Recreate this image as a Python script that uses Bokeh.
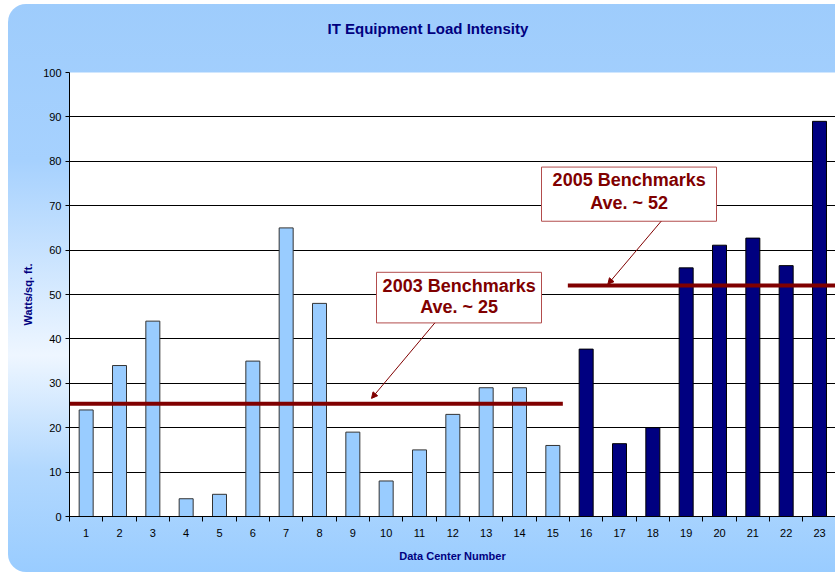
from bokeh.plotting import figure
from bokeh.models import FixedTicker, Arrow, NormalHead, Range1d, ColumnDataSource, Title
from bokeh.embed import file_html
from bokeh.resources import INLINE
from bokeh.core.properties import value

# ---- data ----
title_text = "IT Equipment Load Intensity"
centers = list(range(1, 24))
tick_labels = [str(c) for c in centers]
watts = [24, 34, 44, 4, 5, 35, 65, 48, 19, 8, 15, 23, 29, 29, 16,
         37.7, 16.4, 20, 56, 61.1, 62.7, 56.5, 89]
n_2003 = 15  # first 15 centers from 2003 study, rest from 2005

bench_labels = ["2003 Benchmarks", "2005 Benchmarks"]
bench_avg_text = ["Ave. ~ 25", "Ave. ~ 52"]
bench_values = [25.4, 52.0]
bench_x_start = [0.5, 15.45]
bench_x_end = [15.3, 23.5]

# annotation boxes (data coordinates)
box_left = [9.71, 14.66]
box_right = [14.66, 19.91]
box_top = [55.0, 78.7]
box_bottom = [43.6, 66.5]
text_x = [12.19, 17.29]
text_y1 = [51.9, 75.7]
text_y2 = [47.1, 70.6]
arrow_x0 = [11.46, 18.25]
arrow_y0 = [43.6, 66.5]
arrow_x1 = [9.56, 16.65]
arrow_y1 = [26.6, 52.3]

y_ticks = [0, 10, 20, 30, 40, 50, 60, 70, 80, 90, 100]

# ---- figure ----
p = figure(width=835, height=573, output_backend="svg", toolbar_location=None,
           x_range=Range1d(0.5, 23.48), y_range=Range1d(0, 100),
           min_border_left=69, min_border_right=0, min_border_top=72,
           min_border_bottom=57)
p.border_fill_color = None
p.background_fill_color = "white"
p.outline_line_color = None
p.styles = {"background": "linear-gradient(180deg, #9ECCFC 0%, #A6D1FE 28%, #EEF6FF 62%, #B2D8FE 82%, #99CCFF 100%)",
            "clip-path": "inset(4px 0px 1px 8px round 18px 0px 0px 18px)"}

p.title.text = ""
# spacer between the frame and the title
p.add_layout(Title(text=" ", standoff=17, text_font="Liberation Sans",
                   text_font_size="15px"), "above")
p.add_layout(Title(text=title_text, align="left", offset=258, standoff=0,
                   text_color="#000080", text_font="Liberation Sans",
                   text_font_size="15px", text_font_style="bold"), "above")

colors = ["#99CCFF"] * n_2003 + ["#000080"] * (len(centers) - n_2003)
lines = ["#333333"] * n_2003 + ["#000000"] * (len(centers) - n_2003)
src = ColumnDataSource(dict(x=centers, top=watts, color=colors, line=lines))
p.vbar(x="x", top="top", width=0.42, bottom=0, source=src,
       fill_color="color", line_color="line", line_width=1)

p.segment(x0=bench_x_start, y0=bench_values, x1=bench_x_end, y1=bench_values,
          line_color="#800000", line_width=4, line_cap="butt")

for i in range(2):
    p.add_layout(Arrow(end=NormalHead(size=6, fill_color="#800000", line_color="#800000"),
                       x_start=arrow_x0[i], y_start=arrow_y0[i],
                       x_end=arrow_x1[i], y_end=arrow_y1[i],
                       line_color="#800000", line_width=1))

p.quad(left=box_left, right=box_right, top=box_top, bottom=box_bottom,
       fill_color="white", line_color="#B24C4C", line_width=1)
p.text(x=text_x, y=text_y1, text=bench_labels, text_align="center",
       text_baseline="middle", text_font=value("Liberation Sans"),
       text_font_style="bold", text_font_size="18px", text_color="#800000")
p.text(x=text_x, y=text_y2, text=bench_avg_text, text_align="center",
       text_baseline="middle", text_font=value("Liberation Sans"),
       text_font_style="bold", text_font_size="18px", text_color="#800000")

# axes
xa = p.xaxis[0]
xa.ticker = FixedTicker(ticks=centers, minor_ticks=[c - 0.5 for c in centers] + [23.5])
xa.major_label_overrides = {c: l for c, l in zip(centers, tick_labels)}
xa.major_tick_out = 0
xa.major_tick_in = 0
xa.minor_tick_out = 5
xa.minor_tick_in = 0
xa.minor_tick_line_color = "black"
xa.axis_line_color = "black"
xa.major_label_standoff = 7
xa.major_label_text_font = "Liberation Sans"
xa.major_label_text_font_size = "11px"
xa.major_label_text_color = "black"
xa.axis_label = "Data Center Number"
xa.axis_label_standoff = 10
xa.axis_label_text_font = "Liberation Sans"
xa.axis_label_text_font_size = "11px"
xa.axis_label_text_font_style = "bold"
xa.axis_label_text_color = "#000080"

ya = p.yaxis[0]
ya.ticker = FixedTicker(ticks=y_ticks)
ya.major_tick_out = 4
ya.major_tick_in = 0
ya.minor_tick_out = 0
ya.minor_tick_in = 0
ya.axis_line_color = "black"
ya.major_tick_line_color = "black"
ya.major_label_standoff = 4
ya.major_label_text_font = "Liberation Sans"
ya.major_label_text_font_size = "11px"
ya.major_label_text_color = "black"
ya.axis_label = "Watts/sq. ft."
ya.axis_label_standoff = 6
ya.axis_label_text_font = "Liberation Sans"
ya.axis_label_text_font_size = "11px"
ya.axis_label_text_font_style = "bold"
ya.axis_label_text_color = "#000080"

p.xgrid.visible = False
p.ygrid.grid_line_color = "black"
p.ygrid.grid_line_width = 1
p.ygrid.ticker = FixedTicker(ticks=y_ticks)

open("out.html", "w").write(file_html(p, INLINE))
